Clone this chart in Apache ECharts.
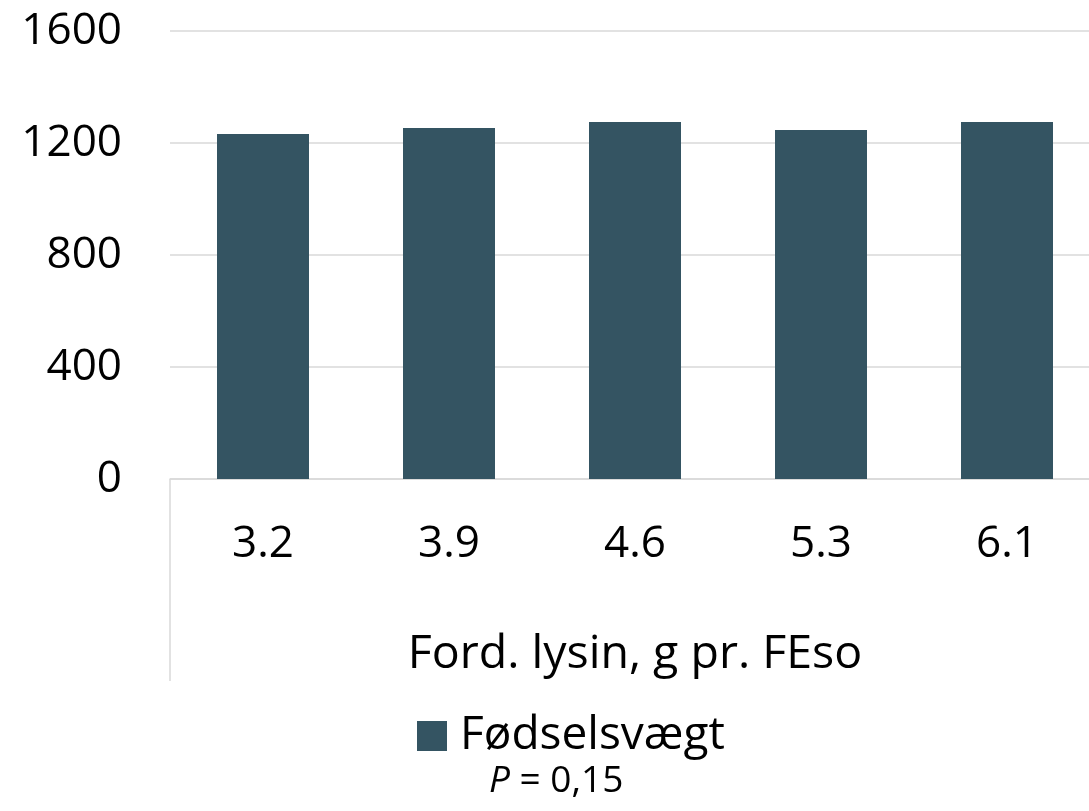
<!DOCTYPE html>
<html>
<head>
<meta charset="utf-8">
<script src="https://cdn.jsdelivr.net/npm/echarts@6/dist/echarts.min.js"></script>
<style>
  html, body { margin: 0; padding: 0; background: #fff; }
  #chart { width: 1089px; height: 811px; }
</style>
</head>
<body>
<div id="chart"></div>
<script>
const categories = ["3.2", "3.9", "4.6", "5.3", "6.1"];
const birthWeight = [1232, 1254, 1275, 1246, 1275];
const seriesName = "Fødselsvægt";
const axisName = "Ford. lysin, g pr. FEso";

const barColor = "#345462";
const gridColor = "#d9d9d9";
const font = "Open Sans";

const chart = echarts.init(document.getElementById("chart"));

const option = {
  animation: false,
  textStyle: { fontFamily: font },
  grid: {
    left: 170,
    width: 930,
    top: 31,
    bottom: 332,
    outerBoundsMode: "none",
  },
  legend: {
    left: 412,
    top: 708,
    icon: "rect",
    itemWidth: 30,
    itemHeight: 30,
    textStyle: {
      fontSize: 46,
      color: "#000",
      fontFamily: font,
      padding: [0, 0, 0, 8],
    },
    data: [seriesName],
  },
  title: {
    left: 484,
    top: 758,
    text: "{i|P} = 0,15",
    textStyle: {
      fontSize: 37,
      fontWeight: "normal",
      color: "#000",
      fontFamily: font,
      rich: {
        i: { fontStyle: "italic", fontSize: 37, color: "#000", fontFamily: font },
      },
    },
  },
  xAxis: {
    type: "category",
    data: categories,
    axisLine: { lineStyle: { color: gridColor, width: 1.5 } },
    axisTick: { show: false },
    axisLabel: { fontSize: 44, color: "#000", margin: 43 },
    name: axisName,
    nameLocation: "middle",
    nameGap: 152,
    nameTextStyle: { fontSize: 46.5, color: "#000" },
  },
  yAxis: {
    type: "value",
    min: 0,
    max: 1600,
    interval: 400,
    axisLine: { show: false },
    axisTick: { show: false },
    axisLabel: {
      fontSize: 44,
      color: "#000",
      margin: 48,
      formatter: (v) => String(v),
    },
    splitLine: { lineStyle: { color: gridColor, width: 1.5 } },
  },
  graphic: [
    {
      type: "line",
      shape: { x1: 170, y1: 479, x2: 170, y2: 681 },
      style: { stroke: gridColor, lineWidth: 1.5 },
    },
  ],
  series: [
    {
      name: seriesName,
      type: "bar",
      data: birthWeight,
      barWidth: 92,
      itemStyle: { color: barColor },
    },
  ],
};

chart.setOption(option);
</script>
</body>
</html>
